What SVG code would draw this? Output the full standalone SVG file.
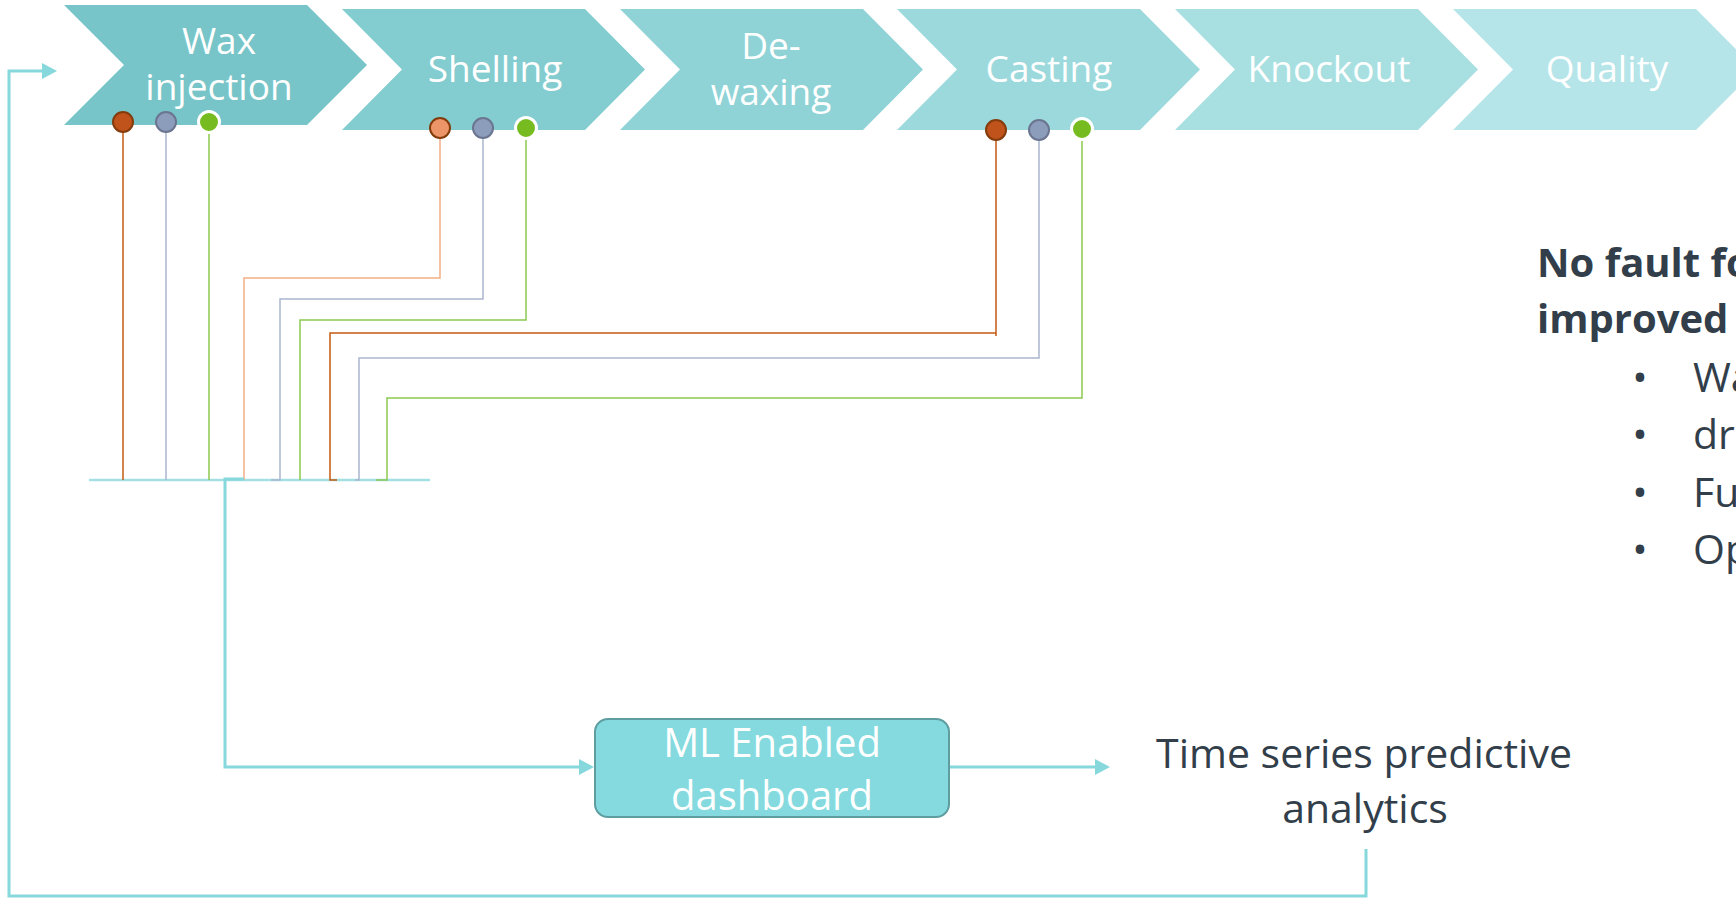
<svg xmlns="http://www.w3.org/2000/svg" width="1736" height="899" viewBox="0 0 1736 899">
  <defs>
    <marker id="arrowhead" markerUnits="userSpaceOnUse" markerWidth="16" markerHeight="16" viewBox="0 0 15 16" refX="5" refY="8" orient="auto">
      <path d="M0,0 L15,8 L0,16 Z" fill="#86D8DC"/>
    </marker>
  </defs>
  <style>
    .step-label { font-family: "Open Sans", "Noto Sans", sans-serif; font-size: 37px; fill: #FFFFFF; text-anchor: middle; }
    .box-label { font-family: "Open Sans", "Noto Sans", sans-serif; font-size: 40px; fill: #FFFFFF; text-anchor: middle; }
    .dark-text { font-family: "Open Sans", "Noto Sans", sans-serif; font-size: 41px; fill: #323E4A; }
    .dark-bold { font-family: "Open Sans", "Noto Sans", sans-serif; font-size: 40px; font-weight: 700; fill: #323E4A; }
    .wire { fill: none; stroke-width: 1.5; }
    .w-red { stroke: #C55A11; }
    .w-gray { stroke: #A9B6CE; }
    .w-green { stroke: #8CC94F; }
    .w-orange { stroke: #F4AF86; }
    .flow { fill: none; stroke: #86D8DC; stroke-width: 3; }
    .bus { fill: none; stroke: #A3DFE3; stroke-width: 2.5; }
    .dot-red { fill: #C0521C; stroke: #843C0C; stroke-width: 2; }
    .dot-orange { fill: #EB9568; stroke: #843C0C; stroke-width: 2; }
    .dot-gray { fill: #8C9CBB; stroke: #6B7590; stroke-width: 2; }
    .dot-green { fill: #76BC21; stroke: #FFFFFF; stroke-width: 3; }
  </style>

  <!-- process chevrons -->
  <g id="step-wax-injection">
    <polygon points="64,5 307,5 367,65 307,125 64,125 124,65" fill="#77C5C8"/>
    <text class="step-label" x="219" y="54">Wax</text>
    <text class="step-label" x="219" y="100">injection</text>
  </g>
  <g id="step-shelling">
    <polygon points="342,9 585,9 645,69.5 585,130 342,130 402,69.5" fill="#83CCCF"/>
    <text class="step-label" x="495" y="82">Shelling</text>
  </g>
  <g id="step-dewaxing">
    <polygon points="620,9 863,9 923,69.5 863,130 620,130 680,69.5" fill="#8FD3D7"/>
    <text class="step-label" x="771" y="59">De-</text>
    <text class="step-label" x="771" y="105">waxing</text>
  </g>
  <g id="step-casting">
    <polygon points="897,9 1140,9 1200,69.5 1140,130 897,130 957,69.5" fill="#9CD9DC"/>
    <text class="step-label" x="1049" y="82">Casting</text>
  </g>
  <g id="step-knockout">
    <polygon points="1175,9 1418,9 1478,69.5 1418,130 1175,130 1235,69.5" fill="#A8DFE1"/>
    <text class="step-label" x="1329" y="82">Knockout</text>
  </g>
  <g id="step-quality">
    <polygon points="1453,9 1696,9 1756,69.5 1696,130 1453,130 1513,69.5" fill="#B5E5E8"/>
    <text class="step-label" x="1607" y="82">Quality</text>
  </g>

  <!-- connectors -->
  <g id="connectors">
    <path class="bus" d="M89,480 H430"/>
    <path class="wire w-red" d="M123,122 V480"/>
    <path class="wire w-gray" d="M166,122 V480"/>
    <path class="wire w-green" d="M209,122 V480"/>
    <path class="wire w-orange" d="M440,128 V278 H244 V480"/>
    <path class="wire w-gray" d="M483,128 V299 H280 V480 H271"/>
    <path class="wire w-green" d="M526,128 V320 H300 V480"/>
    <path class="wire w-red" d="M996,130 V336 M996,333 H330 V480 H337"/>
    <path class="wire w-gray" d="M1039,130 V358 H359 V480 H355"/>
    <path class="wire w-green" d="M1082,129 V398 H387 V480 H376"/>
    <path class="flow" d="M244,479 H225 V767 H584" marker-end="url(#arrowhead)"/>
    <path class="flow" d="M949,767 H1100" marker-end="url(#arrowhead)"/>
    <path class="flow" d="M1366,849 V896 H9 V71 H47" marker-end="url(#arrowhead)"/>
  </g>

  <!-- sensor points -->
  <g id="sensors-wax-injection">
    <circle class="dot-red" cx="123" cy="122" r="10"/>
    <circle class="dot-gray" cx="166" cy="122" r="10"/>
    <circle class="dot-green" cx="209" cy="122" r="10.5"/>
  </g>
  <g id="sensors-shelling">
    <circle class="dot-orange" cx="440" cy="128" r="10"/>
    <circle class="dot-gray" cx="483" cy="128" r="10"/>
    <circle class="dot-green" cx="526" cy="128" r="10.5"/>
  </g>
  <g id="sensors-casting">
    <circle class="dot-red" cx="996" cy="130" r="10"/>
    <circle class="dot-gray" cx="1039" cy="130" r="10"/>
    <circle class="dot-green" cx="1082" cy="129" r="10.5"/>
  </g>

  <!-- dashboard -->
  <g id="ml-dashboard">
    <rect x="595" y="719" width="354" height="98" rx="13" ry="13" fill="#84DADE" stroke="#5E9EA1" stroke-width="2"/>
    <text class="box-label" x="772" y="757">ML Enabled</text>
    <text class="box-label" x="772" y="810">dashboard</text>
  </g>

  <!-- analytics output -->
  <g id="predictive-analytics">
    <text class="dark-text" x="1364" y="768" text-anchor="middle">Time series predictive</text>
    <text class="dark-text" x="1365" y="823" text-anchor="middle">analytics</text>
  </g>

  <!-- benefits list -->
  <g id="benefits">
    <text class="dark-bold" x="1537" y="277">No fault fo</text>
    <text class="dark-bold" x="1537" y="333">improved</text>
    <text class="dark-text" x="1640" y="392" text-anchor="middle">•</text>
    <text class="dark-text" x="1693" y="392">Wa</text>
    <text class="dark-text" x="1640" y="449" text-anchor="middle">•</text>
    <text class="dark-text" x="1693" y="449">dr</text>
    <text class="dark-text" x="1640" y="507" text-anchor="middle">•</text>
    <text class="dark-text" x="1693" y="507">Fu</text>
    <text class="dark-text" x="1640" y="564" text-anchor="middle">•</text>
    <text class="dark-text" x="1693" y="564">Op</text>
  </g>
</svg>
